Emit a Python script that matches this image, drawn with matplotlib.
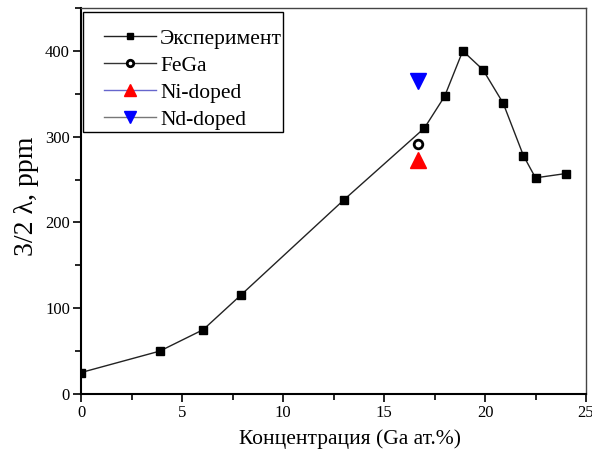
import matplotlib
matplotlib.use("Agg")
import matplotlib.pyplot as plt
from matplotlib.ticker import MultipleLocator
from matplotlib.legend_handler import HandlerLine2D
from matplotlib.patches import Rectangle

plt.rcParams['font.family'] = ['Liberation Serif', 'DejaVu Serif']
plt.rcParams['mathtext.fontset'] = 'stix'

exp_x = [0, 3.9, 6.05, 7.9, 13.0, 17.0, 18.0, 18.9, 19.9, 20.9, 21.9, 22.5, 24.0]
exp_y = [25, 50, 75, 115, 226, 310, 347, 400, 378, 339, 278, 252, 257]
fega_x = [16.7]
fega_y = [292]
ni_x = [16.7]
ni_y = [273]
nd_x = [16.7]
nd_y = [365]

labels = ['Эксперимент', 'FeGa', 'Ni-doped', 'Nd-doped']
xlabel = 'Концентрация (Ga ат.%)'
ylabel = '3/2 λ, ppm'

W, H = 592, 454
fig = plt.figure(figsize=(W/100, H/100), dpi=100)
ax = fig.add_axes([81/W, 1-394/H, (586-81)/W, (394-8)/H])

l1, = ax.plot(exp_x, exp_y, color='#222222', lw=1.0, marker='s', ms=6.2,
              mfc='black', mec='black', label=labels[0])
l2, = ax.plot(fega_x, fega_y, color='#333333', lw=1.0, marker='o', ms=6.2,
              mfc='white', mec='black', mew=2.0, linestyle='-', label=labels[1])
l3, = ax.plot(ni_x, ni_y, color='#6666cc', lw=1.0, marker='^', ms=11,
              mfc='red', mec='red', linestyle='-', label=labels[2])
l4, = ax.plot(nd_x, nd_y, color='#777777', lw=1.0, marker='v', ms=11,
              mfc='blue', mec='blue', linestyle='-', label=labels[3])

ax.set_xlim(0, 25)
ax.set_ylim(0, 450)
ax.xaxis.set_major_locator(MultipleLocator(5))
ax.xaxis.set_minor_locator(MultipleLocator(2.5))
ax.yaxis.set_major_locator(MultipleLocator(100))
ax.yaxis.set_minor_locator(MultipleLocator(50))

ax.tick_params(which='both', direction='out', width=1.2, labelsize=12, pad=2)
ax.tick_params(which='major', length=6)
ax.tick_params(which='minor', length=4)
ax.tick_params(top=False, right=False)

for s in ['left', 'bottom']:
    ax.spines[s].set_linewidth(1.5)
    ax.spines[s].set_color('black')
for s in ['top', 'right']:
    ax.spines[s].set_linewidth(1.0)
    ax.spines[s].set_color('#444444')

ax.set_xlabel(xlabel, fontsize=15.5, labelpad=6)
ax.xaxis.label.set_x(0.533)
ax.set_ylabel(ylabel, fontsize=20, labelpad=4)
ax.yaxis.label.set_y(0.513)

hm = {h: HandlerLine2D(xpad=0.4) for h in (l1, l2, l3, l4)}
leg = ax.legend(handles=[l1, l2, l3, l4], handler_map=hm,
                loc='upper left', bbox_to_anchor=(0.003, 1 - 8/386), fontsize=15.5,
                frameon=False,
                handlelength=2.8, labelspacing=0.32, borderpad=0.6,
                handletextpad=0.2, borderaxespad=0.0, markerscale=0.75)

fig.canvas.draw()
bb = leg.get_window_extent()
x0, y0 = bb.x0, bb.y0 + 11
x1, y1 = bb.x1 - 12, bb.y1 + 4
rect = Rectangle((x0/W, y0/H), (x1-x0)/W, (y1-y0)/H, transform=fig.transFigure,
                 fill=True, facecolor='white', edgecolor='black', lw=1.0, zorder=4)
ax.add_artist(rect)
rect.set_clip_on(False)
leg.set_zorder(5)

fig.savefig('out.png', dpi=100)
